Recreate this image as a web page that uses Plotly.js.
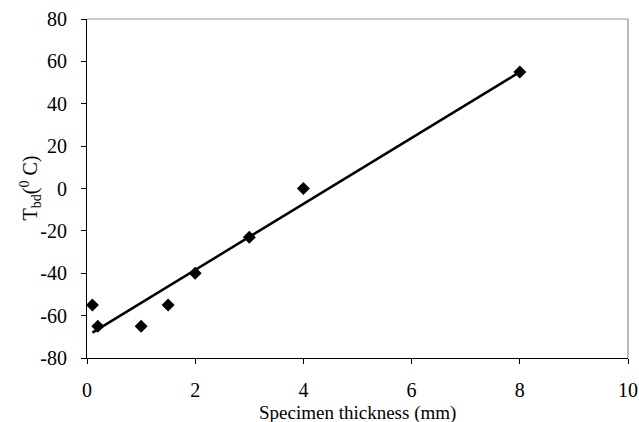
<!DOCTYPE html>
<html>
<head>
<meta charset="utf-8">
<script src="https://cdn.plot.ly/plotly-3.0.1.min.js"></script>
<style>html,body{margin:0;padding:0;background:#fff;}#chart{width:639px;height:422px;}</style>
</head>
<body>
<div id="chart"></div>
<script>
// Measured points
const thickness = [0.1, 0.2, 1, 1.5, 2, 3, 4, 8];
const tbd = [-55, -65, -65, -55, -40, -23, 0, 55];
// Trend line end points
const fitX = [0.1, 8];
const fitY = [-68, 55];
const xTicks = [0, 2, 4, 6, 8, 10];
const yTicks = [-80, -60, -40, -20, 0, 20, 40, 60, 80];
const xTitle = 'Specimen thickness (mm)';
const yTitle = 'T<sub>bd</sub>(<sup>0</sup> C)';

const font = {family: '"Liberation Serif", "Times New Roman", serif', size: 20, color: '#000'};
const titleFont = Object.assign({}, font, {size: 19});

const data = [
  {x: fitX, y: fitY, mode: 'lines', type: 'scatter', line: {color: '#000', width: 2.5}, hoverinfo: 'skip', showlegend: false},
  {x: thickness, y: tbd, mode: 'markers', type: 'scatter', marker: {symbol: 'diamond', size: 10, color: '#000'}, showlegend: false}
];

const layout = {
  width: 639, height: 422,
  margin: {l: 87, r: 11, t: 19, b: 64},
  paper_bgcolor: '#fff', plot_bgcolor: '#fff',
  font: font,
  xaxis: {
    range: [0, 10], tickvals: xTicks, ticktext: xTicks.map(String),
    showgrid: false, zeroline: false, showline: true, linecolor: '#000', linewidth: 1,
    ticks: 'outside', ticklen: 5, tickcolor: '#000', tickfont: font, ticklabelstandoff: 9
  },
  yaxis: {
    range: [-80, 80], tickvals: yTicks, ticktext: yTicks.map(String),
    showgrid: false, zeroline: false, showline: true, linecolor: '#000', linewidth: 1,
    ticks: 'outside', ticklen: 5, tickcolor: '#000', tickfont: font, ticklabelstandoff: 10
  },
  annotations: [
    {text: xTitle, xref: 'paper', yref: 'paper', x: 0.5, y: (358 - 413) / 339, xanchor: 'center', yanchor: 'middle', showarrow: false, font: titleFont, borderpad: 0},
    {text: yTitle, xref: 'paper', yref: 'paper', x: (30 - 87) / 541, y: 0.5, xanchor: 'center', yanchor: 'middle', textangle: -90, showarrow: false, font: font}
  ],
  shapes: [
    {type: 'line', xref: 'paper', yref: 'paper', x0: 0, x1: 1, y0: 1, y1: 1, line: {color: '#999', width: 1}},
    {type: 'line', xref: 'paper', yref: 'paper', x0: 1, x1: 1, y0: 0, y1: 1, line: {color: '#777', width: 1}}
  ]
};

Plotly.newPlot('chart', data, layout, {displayModeBar: false, staticPlot: true});
</script>
</body>
</html>
